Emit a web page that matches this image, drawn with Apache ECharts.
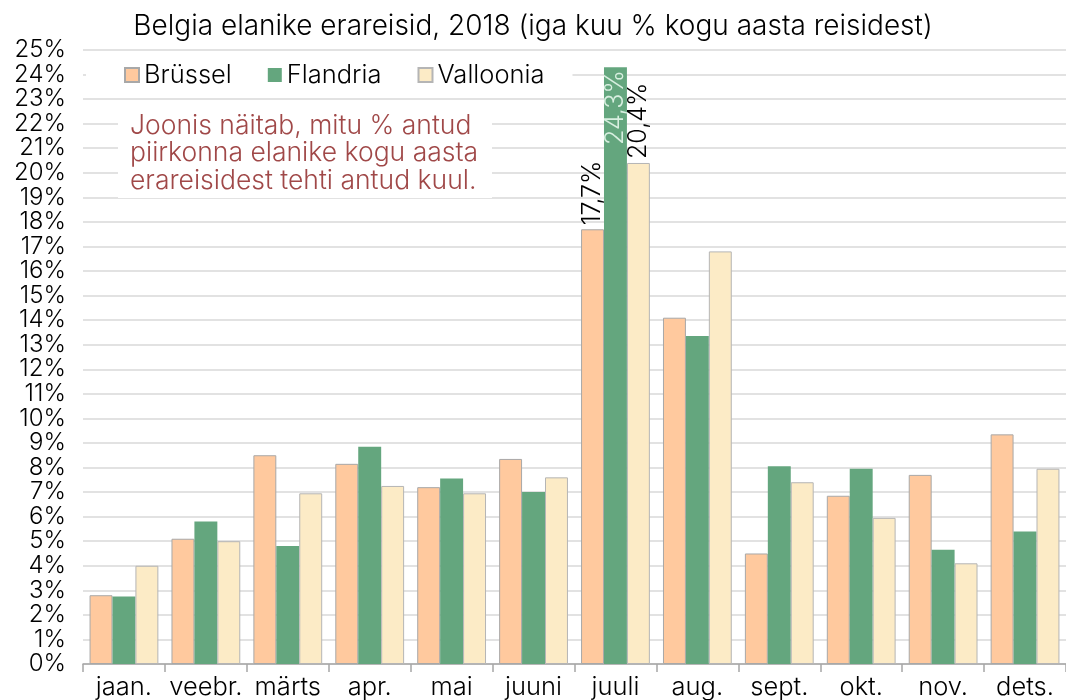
<!DOCTYPE html>
<html>
<head>
<meta charset="utf-8">
<script src="https://cdn.jsdelivr.net/npm/echarts@6/dist/echarts.min.js"></script>
<style>
  html, body { margin: 0; padding: 0; background: #fff; }
  #chart { width: 1066px; height: 700px; }
</style>
</head>
<body>
<div id="chart"></div>
<script>
  // kuud ja piirkondade väärtused (% kogu aasta reisidest)
  const months = ['jaan.', 'veebr.', 'märts', 'apr.', 'mai', 'juuni', 'juuli', 'aug.', 'sept.', 'okt.', 'nov.', 'dets.'];
  const brussel = [2.8, 5.1, 8.5, 8.15, 7.2, 8.35, 17.7, 14.1, 4.5, 6.85, 7.7, 9.35];
  const flandria = [2.75, 5.8, 4.8, 8.85, 7.55, 7.0, 24.3, 13.35, 8.05, 7.95, 4.65, 5.4];
  const valloonia = [4.0, 5.0, 6.95, 7.25, 6.95, 7.6, 20.4, 16.8, 7.4, 5.95, 4.1, 7.95];
  const yTicks = { min: 0, max: 25, interval: 1 };
  const labelMonth = 6; // ainult juuli saab sildi

  const font = '"Inter Light", Inter, Lato, sans-serif';
  const fmt = v => String(v).replace('.', ',') + '%';

  function withLabel(arr, label) {
    return arr.map((v, i) => i === labelMonth ? { value: v, label: label } : v);
  }

  const outsideLabel = {
    show: true, position: 'top', rotate: 90, align: 'left', verticalAlign: 'middle',
    distance: 4, color: '#000', fontSize: 25, fontFamily: font,
    formatter: p => fmt(p.value)
  };
  const insideLabel = {
    show: true, position: 'insideTop', rotate: 90, align: 'right', verticalAlign: 'middle',
    distance: 3, color: '#d8efe0', fontSize: 25, fontFamily: font,
    formatter: p => fmt(p.value)
  };

  let chart = echarts.init(document.getElementById('chart'));
  chart.setOption({
    animation: false,
    textStyle: { fontFamily: font },
    title: {
      text: 'Belgia elanike erareisid, 2018 (iga kuu % kogu aasta reisidest)',
      left: 'center',
      top: 8,
      textStyle: { fontSize: 28, fontWeight: 'normal', color: '#000', fontFamily: font }
    },
    legend: {
      left: 86,
      top: 59,
      padding: [3, 28, 3, 38],
      backgroundColor: '#fff',
      itemWidth: 14,
      itemHeight: 14,
      itemGap: 36,
      icon: 'rect',
      textStyle: { fontSize: 25.5, color: '#000', fontFamily: font }
    },
    grid: { left: 83, right: -6, top: 50, bottom: 36 },
    xAxis: {
      type: 'category',
      data: months,
      axisLine: { lineStyle: { color: '#a6a6a6', width: 1.5 } },
      axisTick: { show: true, length: 8, lineStyle: { color: '#a6a6a6', width: 1.5 } },
      axisLabel: { fontSize: 25.5, color: '#000', margin: 10, interval: 0 }
    },
    yAxis: {
      type: 'value',
      min: yTicks.min,
      max: yTicks.max,
      interval: yTicks.interval,
      axisLine: { show: false },
      axisTick: { show: false },
      axisLabel: {
        fontSize: 24, color: '#000', margin: 17, formatter: '{value}%',
        showMinLabel: true, showMaxLabel: true
      },
      splitLine: { lineStyle: { color: '#d9d9d9', width: 1.5 } }
    },
    series: [
      {
        name: 'Brüssel', type: 'bar', barGap: '0%', barCategoryGap: '16%',
        itemStyle: { color: '#ffc99e', borderColor: '#a8a8a8', borderWidth: 1 },
        data: withLabel(brussel, outsideLabel)
      },
      {
        name: 'Flandria', type: 'bar', barGap: '0%', barCategoryGap: '16%',
        itemStyle: { color: '#64a67e' },
        data: withLabel(flandria, insideLabel)
      },
      {
        name: 'Valloonia', type: 'bar', barGap: '0%', barCategoryGap: '16%',
        itemStyle: { color: '#fcebc6', borderColor: '#b5b5b5', borderWidth: 1 },
        data: withLabel(valloonia, outsideLabel)
      }
    ],
    graphic: [
      {
        type: 'rect', left: 118, top: 110, z: 10,
        shape: { width: 374, height: 88 },
        style: { fill: '#fff' }
      },
      {
        type: 'text', left: 130, top: 112, z: 11,
        style: {
          text: 'Joonis näitab, mitu % antud\npiirkonna elanike kogu aasta\nerareisidest tehti antud kuul.',
          fill: '#a04848',
          font: '26.5px ' + font,
          lineHeight: 27.5
        }
      }
    ]
  });
</script>
</body>
</html>
